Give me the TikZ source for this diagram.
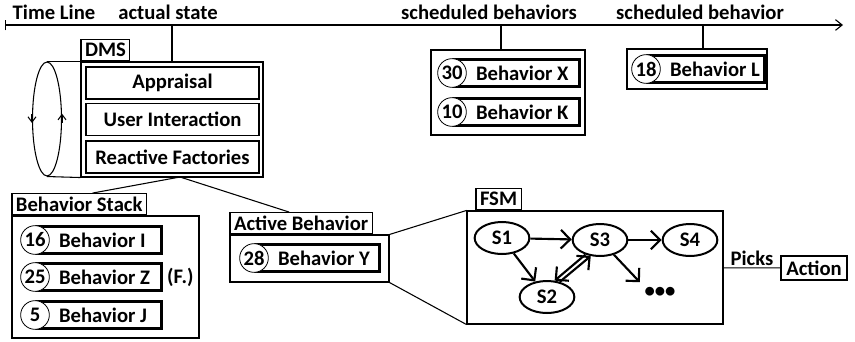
\documentclass[tikz,border=0pt]{standalone}
\usepackage{fontspec}
\setmainfont{Carlito}
\usetikzlibrary{arrows.meta, positioning, shapes.geometric}

\begin{document}
\begin{tikzpicture}[
    x=0.75pt, y=-0.75pt,
    every node/.style={font=\fontsize{15.5}{18}\selectfont\bfseries},
    frame/.style={rectangle, draw, line width=0.8pt, inner sep=0pt},
    tab/.style={rectangle, draw, line width=0.8pt, inner xsep=3pt, inner ysep=0pt, minimum height=16pt},
    part/.style={rectangle, draw, line width=0.8pt, minimum width=129.75pt, minimum height=24pt, inner sep=0pt},
    bhv/.style={rectangle, draw, line width=2.2pt, anchor=west, minimum height=20pt, inner xsep=2pt, inner ysep=0pt, align=flush left, execute at begin node={\hspace*{15pt}}},
    prio/.style={circle, draw, fill=white, line width=0.6pt, minimum size=21.5pt, inner sep=0pt},
    state/.style={ellipse, draw, line width=1.5pt, minimum width=41pt, minimum height=24pt, inner sep=0pt},
    arrow/.style={-{Straight Barb[length=7pt, width=14pt]}, line width=1.6pt},
    line/.style={line width=0.8pt}
]
    \useasboundingbox (0,0) rectangle (855,342);

    % Time line
    \coordinate (tstart) at (5,25);
    \coordinate (tend) at (843,25);
    \draw[line, {Bar[width=8pt]}-{Straight Barb[length=5pt, width=8pt]}] (tstart) -- (tend);
    \node[anchor=base] (tlbl) at (54,20) {Time Line};
    \node[anchor=base] (actual) at (168,20) {actual state};
    \node[anchor=base] (schedslbl) at (489,20) {scheduled behaviors};
    \node[anchor=base] (schedlbl) at (700,20) {scheduled behavior};

    % DMS
    \node[frame, minimum width=136.5pt, minimum height=86.25pt] (dms) at (172,119.5) {};
    \node[tab, anchor=south west] (dmstab) at (dms.north west) {DMS};
    \node[part] (appraisal) at (172.5,83) {Appraisal};
    \node[part] (userint) at (172.5,119.5) {User Interaction};
    \node[part] (reactive) at (172.5,157) {Reactive Factories};
    \draw[line] (dms.north) -- (dms.north |- tstart);

    % Loop
    \node[ellipse, draw, line width=0.8pt, minimum width=21.75pt, minimum height=85.5pt, inner sep=0pt] (loop) at (47,119) {};
    \draw[line] (loop.north) -- (dms.north west);
    \draw[line] (loop.south) -- (dms.south west);
    \draw[line, -{Straight Barb[length=4pt, width=6pt]}] ([yshift=4pt]loop.west) -- ([yshift=-3pt]loop.west);
    \draw[line, -{Straight Barb[length=4pt, width=6pt]}] ([yshift=-3pt]loop.east) -- ([yshift=4pt]loop.east);

    % Scheduled behaviors
    \node[frame, minimum width=115.5pt, minimum height=63.75pt] (sched) at (508,92.5) {};
    \draw[line] ([xshift=-5.25pt]sched.north) -- ([xshift=-5.25pt]sched.north |- tstart);
    \node[bhv, text width=90.5pt] (bhvX) at (452,73) {Behavior X};
    \node[prio] (prioX) at (bhvX.west) {30};
    \node[bhv, text width=90.5pt] (bhvK) at (452,112) {Behavior K};
    \node[prio] (prioK) at (bhvK.west) {10};

    \node[frame, minimum width=105pt, minimum height=30pt] (schedL) at (697,69) {};
    \draw[line] ([xshift=4.5pt]schedL.north) -- ([xshift=4.5pt]schedL.north |- tstart);
    \node[bhv, text width=84pt] (bhvL) at (646,69) {Behavior L};
    \node[prio] (prioL) at (bhvL.west) {18};

    % Behavior stack
    \node[frame, minimum width=140.25pt, minimum height=91.5pt] (stack) at (105.5,277) {};
    \node[tab, anchor=south west] (stacktab) at (stack.north west) {Behavior Stack};
    \node[bhv, text width=89.75pt] (bhvI) at (35,240) {Behavior I};
    \node[prio] (prioI) at (bhvI.west) {16};
    \node[bhv, text width=89.75pt] (bhvZ) at (35,277) {Behavior Z};
    \node[prio] (prioZ) at (bhvZ.west) {25};
    \node[right=2pt of bhvZ, inner sep=1pt] (forced) {(F.)};
    \node[bhv, text width=89.75pt] (bhvJ) at (35,315) {Behavior J};
    \node[prio] (prioJ) at (bhvJ.west) {5};

    % Active behavior
    \node[frame, minimum width=119.25pt, minimum height=35.25pt] (active) at (309.5,258.5) {};
    \node[tab, anchor=south west] (acttab) at (active.north west) {Active Behavior};
    \node[bhv, text width=89pt] (bhvY) at (254,258) {Behavior Y};
    \node[prio] (prioY) at (bhvY.west) {28};

    \coordinate (split) at (180,177);
    \draw[line] (split) -- ([xshift=10pt]stacktab.north);
    \draw[line] (split) -- ([xshift=-9pt]acttab.north);

    % FSM
    \node[frame, minimum width=192pt, minimum height=84.75pt] (fsm) at (595,267.5) {};
    \node[tab, above right=0pt and 6.75pt of fsm.north west] (fsmtab) {FSM};
    \draw[line] (active.north east) -- (fsm.north west);
    \draw[line] (active.south east) -- (fsm.south west);

    \node[state] (s1) at (502,238) {S1};
    \node[state] (s3) at (600,240) {S3};
    \node[state] (s4) at (690,240) {S4};
    \node[state] (s2) at (547,297) {S2};
    \node (dots) at (660,292) {\textbullet\textbullet\textbullet};
    \draw[arrow] (s1) -- (s3);
    \draw[arrow] (s3) -- (s4);
    \draw[arrow] (s1) -- (s2);
    \draw[arrow] (s2.50) -- (s3.240);
    \draw[arrow] (s3.225) -- (s2.65);
    \draw[arrow] (s3) -- (dots.north west);

    % Action
    \node[tab, minimum width=49.5pt, minimum height=18pt] (action) at (814,268) {Action};
    \draw[line] (fsm) -- node[above, inner sep=1pt] (picks) {Picks} (action);
\end{tikzpicture}
\end{document}
